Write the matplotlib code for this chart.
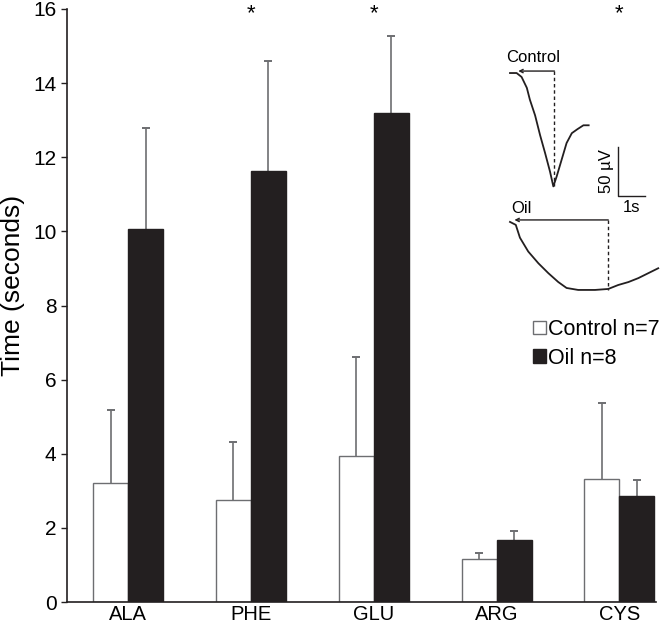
import matplotlib
matplotlib.use("Agg")
import matplotlib.pyplot as plt
import numpy as np

# =========================
# DATA
# =========================

amino_acids = ["ALA", "PHE", "GLU", "ARG", "CYS"]
control_mean = [3.2, 2.74, 3.95, 1.16, 3.32]
control_err = [1.98, 1.58, 2.65, 0.16, 2.04]
oil_mean = [10.07, 11.63, 13.2, 1.66, 2.85]
oil_err = [2.73, 2.96, 2.07, 0.25, 0.45]
significant = [False, True, True, False, True]

legend_labels = ["Control n=7", "Oil n=8"]
y_ticks = [0, 2, 4, 6, 8, 10, 12, 14, 16]

# inset example recordings (time in s, potential in uV, relative to start)
control_trace_t = [0.0, 0.24, 0.42, 0.61, 0.72, 0.91, 1.09, 1.27, 1.45, 1.57,
                   1.69, 1.87, 2.05, 2.24, 2.44, 2.66, 2.85]
control_trace_v = [0, 0, -4, -15, -27, -43, -63, -81, -100, -115,
                   -105, -88, -71, -61, -57, -53, -53]
control_latency = 1.61

oil_trace_t = [0.0, 0.21, 0.36, 0.66, 1.03, 1.39, 1.75, 2.05, 2.47, 3.08,
               3.56, 3.92, 4.29, 4.65, 5.01, 5.37]
oil_trace_v = [0, -3, -16, -30, -42, -52, -61, -67, -69, -69,
               -68, -64, -61, -57, -52, -47]
oil_latency = 3.56
oil_offset = -151

scale_time = 1.0   # s
scale_volt = 50    # uV

# =========================
# STYLE
# =========================

plt.rcParams["font.family"] = ["Liberation Sans", "DejaVu Sans"]

DARK = "#231f20"
GRAY = "#6d6e71"
BAR_W = 0.285


def draw_errorbars(ax, xs, means, errs):
    zeros = np.zeros(len(xs))
    _, caps, _ = ax.errorbar(xs, means, yerr=[zeros, errs], fmt="none",
                             ecolor=GRAY, elinewidth=1.2, capsize=2.6,
                             capthick=1.4, zorder=1)
    # only the upper whisker is shown
    caps[0].set_visible(False)


def draw_inset(fig):
    ins = fig.add_axes([500 / 662, 329 / 629, 162 / 662, 260 / 629])
    ins.set_xlim(-0.362, 5.507)
    ins.set_ylim(-230.2, 33.5)
    ins.axis("off")

    # control recording
    ins.plot(control_trace_t, control_trace_v, color=DARK, lw=1.3)
    ins.plot([control_latency, control_latency], [2, min(control_trace_v)],
             color=DARK, lw=1.0, ls=(0, (2.5, 2)))
    ins.annotate("", xy=(0.30, 2), xytext=(control_latency, 2),
                 arrowprops=dict(arrowstyle="->", color=DARK, lw=1.0,
                                 shrinkA=0, shrinkB=0, mutation_scale=6))
    ins.text(0.83, 16, "Control", fontsize=12, ha="center", va="center")

    # oil recording
    oil_v = np.array(oil_trace_v) + oil_offset
    ins.plot(oil_trace_t, oil_v, color=DARK, lw=1.3)
    ins.plot([oil_latency, oil_latency], [oil_offset + 2, oil_v.min()],
             color=DARK, lw=1.0, ls=(0, (2.5, 2)))
    ins.annotate("", xy=(0.16, oil_offset + 2), xytext=(oil_latency, oil_offset + 2),
                 arrowprops=dict(arrowstyle="->", color=DARK, lw=1.0,
                                 shrinkA=0, shrinkB=0, mutation_scale=6))
    ins.text(0.43, -137, "Oil", fontsize=12, ha="center", va="center")

    # scale bar
    sx, sy = 3.90, -124.7
    ins.plot([sx, sx, sx + scale_time], [sy + scale_volt, sy, sy],
             color=DARK, lw=1.0)
    ins.text(3.5, sy + scale_volt / 2, "50 \u00b5V", fontsize=12,
             rotation=90, ha="center", va="center")
    ins.text(sx + scale_time / 2, -136, "1s", fontsize=12,
             ha="center", va="center")


# =========================
# PLOT
# =========================

fig = plt.figure(figsize=(6.62, 6.29), dpi=100)
ax = fig.add_axes([66.7 / 662, 27 / 629, 589.6 / 662, 593 / 629])

x = np.arange(len(amino_acids))

ctrl = ax.bar(x - BAR_W / 2, control_mean, BAR_W, color="white",
              edgecolor=GRAY, linewidth=1.0, label=legend_labels[0], zorder=2)
oil = ax.bar(x + BAR_W / 2, oil_mean, BAR_W, color=DARK,
             edgecolor=DARK, linewidth=1.0, label=legend_labels[1], zorder=2)

draw_errorbars(ax, x - BAR_W / 2, control_mean, control_err)
draw_errorbars(ax, x + BAR_W / 2, oil_mean, oil_err)

for xi, sig in zip(x, significant):
    if sig:
        ax.text(xi, 16.15, "*", fontsize=16, ha="center", va="top")

ax.set_xlim(-0.5, 4.3)
ax.set_ylim(0, 16)
ax.set_yticks(y_ticks)
ax.set_xticks(x)
ax.set_xticklabels(amino_acids)
ax.tick_params(axis="x", length=0, pad=2.5, labelsize=14.5)
ax.tick_params(axis="y", length=4.3, width=1.0, pad=3, labelsize=15,
               direction="out", color=DARK)
for lab in ax.get_yticklabels():
    lab.set_verticalalignment("center_baseline")
for side in ["top", "right"]:
    ax.spines[side].set_visible(False)
for side in ["left", "bottom"]:
    ax.spines[side].set_color(DARK)
    ax.spines[side].set_linewidth(1.2)

ax.set_ylabel("Time (seconds)", fontsize=19)
ax.yaxis.set_label_coords(-0.07, 0.533)

ax.legend(handles=[ctrl, oil], loc="upper left", frameon=False,
          bbox_to_anchor=(533 / 662, 1 - 319 / 629),
          bbox_transform=fig.transFigure, fontsize=15.5, borderpad=0,
          borderaxespad=0, handlelength=0.6, handleheight=0.6,
          handletextpad=0.1, labelspacing=0.35)

draw_inset(fig)

fig.savefig("out.png", dpi=100)
plt.close(fig)
